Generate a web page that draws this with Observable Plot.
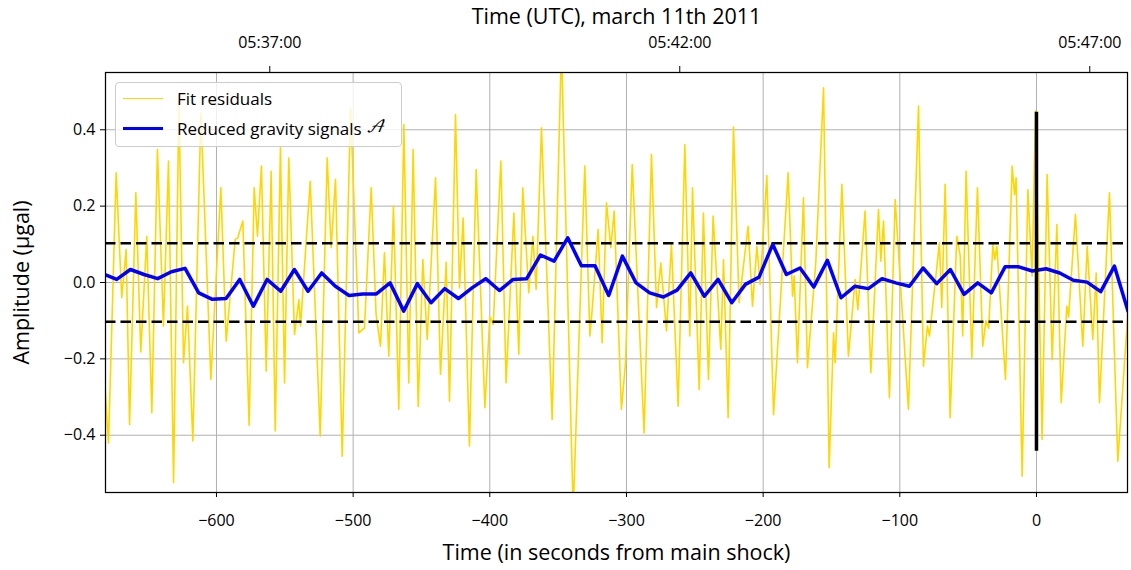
<!DOCTYPE html>
<html><head><meta charset="utf-8">
<script src="https://cdn.jsdelivr.net/npm/d3@7"></script>
<script src="https://cdn.jsdelivr.net/npm/@observablehq/plot@0.6"></script>
<style>
body{margin:0;background:#fff;}
#wrap{position:relative;width:1131px;height:570px;font-family:"Open Sans","DejaVu Sans",sans-serif;}
#wrap svg{display:block;}
g[aria-label="x-axis label"] text, g[aria-label="y-axis label"] text{font-size:21.5px;}
#legend{position:absolute;left:115px;top:82px;width:285px;height:63px;border:1px solid #cccccc;border-radius:4px;background:rgba(255,255,255,0.8);font-size:17px;color:#000;}
.row{position:absolute;left:0;height:20px;display:flex;align-items:center;white-space:nowrap;}
.sw{display:inline-block;width:40px;margin-left:7px;margin-right:14px;}
.cal{font-family:"DejaVu Math TeX Gyre","Noto Sans Math","DejaVu Serif",serif;font-style:italic;}
</style></head><body><div id="wrap"></div>
<script>
// Fit residuals (seconds from main shock, µgal)
const residualTimes = [-682,-679.0,-673.4,-669.3,-666.1,-663.6,-659.0,-655.4,-651.0,-647.3,-643.2,-638.8,-635.1,-631.4,-627.5,-624.1,-621.2,-617.3,-611.4,-604.1,-596.8,-592.9,-586.3,-584.4,-580.7,-576.1,-572.4,-570.0,-567.1,-563.6,-560.0,-557.0,-553.2,-550.2,-547.1,-542.9,-539.7,-538.5,-531.4,-524.1,-519.0,-516.1,-512.9,-508.0,-501.9,-495.8,-491.7,-486.8,-483.2,-480.0,-477.1,-473.9,-470.5,-466.6,-462.9,-459.3,-456.1,-452.4,-449.0,-445.8,-439.7,-436.1,-431.9,-429.5,-425.1,-422.2,-419.5,-414.9,-410.0,-403.6,-400.0,-397.5,-391.9,-388.1,-382.4,-378.8,-375.9,-371.5,-368.5,-366.1,-362.2,-354.4,-347.6,-339.0,-330.5,-326.8,-325.1,-320.7,-317.8,-314.6,-311.5,-309.0,-303.7,-300.7,-295.8,-287.1,-281.7,-278.0,-274.9,-270.7,-267.1,-262.2,-257.3,-253.7,-251.7,-246.8,-243.7,-240.0,-236.6,-231.0,-229.0,-225.6,-221.7,-217.6,-211.0,-207.8,-204.6,-202.2,-197.3,-192.4,-181.7,-178.5,-177.3,-174.9,-170.5,-167.6,-161.5,-155.8,-151.7,-148.5,-147.3,-142.4,-137.6,-132.7,-130.7,-125.4,-121.2,-115.6,-113.9,-111.9,-107.6,-103.4,-93.7,-86.3,-82.7,-79.8,-78.3,-71.0,-69.3,-66.8,-63.2,-58.3,-55.8,-54.0,-51.5,-47.3,-43.2,-39.3,-37.0,-35.0,-31.9,-30.5,-29.0,-22.7,-17.8,-16.1,-14.9,-10.5,-6.3,-3.2,-0.7,4.1,7.8,11.5,14.9,18.1,22.2,23.5,28.5,33.9,37.1,41.2,43.7,46.1,53.4,59.5,66.5,68];
const residualValues = [-0.25,-0.420,0.287,-0.040,0.086,-0.372,0.235,-0.182,0.121,-0.341,0.348,-0.114,0.318,-0.524,0.475,-0.210,-0.062,-0.415,0.444,-0.254,0.248,-0.154,0.113,0.117,0.161,-0.374,0.248,0.121,0.305,-0.232,0.291,-0.389,0.353,-0.263,0.326,-0.136,-0.045,-0.114,0.265,-0.402,0.326,0.091,0.270,-0.455,0.457,-0.132,-0.119,0.248,-0.084,-0.167,0.078,-0.193,0.200,-0.332,0.414,-0.263,0.348,-0.325,0.060,-0.149,0.274,-0.241,0.053,-0.311,0.440,-0.014,0.169,-0.428,0.296,-0.328,-0.090,-0.110,0.318,-0.263,0.182,-0.188,0.248,-0.027,0.121,-0.018,0.405,-0.359,0.62,-0.60,0.305,-0.140,-0.071,0.139,-0.158,0.209,0.091,0.187,-0.332,-0.210,0.309,-0.394,0.335,-0.066,0.051,-0.127,0.099,-0.324,0.361,-0.140,0.248,-0.280,0.182,-0.254,0.174,-0.175,0.060,-0.354,0.407,-0.053,0.147,-0.062,0.095,-0.005,0.280,-0.346,0.287,-0.036,0.017,-0.210,0.222,-0.223,0.051,0.510,-0.485,-0.132,-0.210,0.257,-0.193,0.008,-0.071,0.187,-0.236,0.191,0.056,0.161,-0.302,0.217,-0.332,0.462,-0.219,-0.114,-0.140,0.104,-0.066,0.257,-0.354,0.121,0.070,-0.140,0.291,-0.197,0.248,-0.167,-0.100,-0.120,0.099,0.060,0.095,-0.254,0.305,0.230,0.274,-0.507,0.243,0.017,0.449,-0.411,0.283,-0.202,0.152,-0.315,-0.062,-0.090,0.178,-0.167,0.095,-0.149,0.025,-0.315,0.235,-0.468,-0.100,0.0];

// Reduced gravity signals A (10 s steps)
const signalTimes = [-683,-673,-663,-653,-643,-633,-623,-613,-603,-593,-583,-573,-563,-553,-543,-533,-523,-513,-503,-493,-483,-473,-463,-453,-443,-433,-423,-413,-403,-393,-383,-373,-363,-353,-343,-333,-323,-313,-303,-293,-283,-273,-263,-253,-243,-233,-223,-213,-203,-193,-183,-173,-163,-153,-143,-133,-123,-113,-103,-93,-83,-73,-63,-53,-43,-33,-23,-13,-3,7,17,27,37,47,57,67];
const signalValues = [0.023,0.008,0.034,0.021,0.010,0.028,0.037,-0.027,-0.044,-0.042,0.008,-0.062,0.008,-0.023,0.034,-0.023,0.025,-0.010,-0.034,-0.030,-0.030,-0.001,-0.075,-0.003,-0.053,-0.016,-0.042,-0.014,0.010,-0.021,0.008,0.010,0.072,0.056,0.117,0.044,0.044,-0.034,0.069,-0.001,-0.027,-0.038,-0.020,0.025,-0.036,0.008,-0.053,-0.005,0.014,0.100,0.021,0.038,-0.012,0.058,-0.040,-0.010,-0.016,0.010,-0.001,-0.010,0.038,-0.003,0.034,-0.031,-0.001,-0.027,0.041,0.041,0.030,0.036,0.025,0.006,0.001,-0.024,0.043,-0.075];

const thresholds = [0.103, -0.103];
const shockTime = [0];
const shockRange = [-0.442, 0.446];
const xTicks = [-600,-500,-400,-300,-200,-100,0];
const yTicks = [-0.4,-0.2,0,0.2,0.4];
const utcTicks = [-561,-261,39];
const utcLabels = ["05:37:00","05:42:00","05:47:00"];

const residuals = residualTimes.map((t,i)=>({t, v: residualValues[i]}));
const signals = signalTimes.map((t,i)=>({t, v: signalValues[i]}));
const minus = s => String(s).replace("-", "\u2212");

const chart = Plot.plot({
  width: 1131, height: 570,
  marginLeft: 105, marginRight: 4, marginTop: 72, marginBottom: 78,
  style: {fontFamily: "'Open Sans', 'DejaVu Sans', sans-serif", fontSize: "16px", color: "#000", background: "#fff"},
  x: {domain: [-681.2, 66.6]},
  y: {domain: [-0.55, 0.55]},
  marks: [
    Plot.gridX(xTicks, {stroke: "#b0b0b0", strokeOpacity: 1, strokeWidth: 1}),
    Plot.gridY(yTicks, {stroke: "#b0b0b0", strokeOpacity: 1, strokeWidth: 1}),
    Plot.line(residuals, {x: "t", y: "v", stroke: "#FFD700", strokeWidth: 1.6, clip: true}),
    Plot.ruleY(thresholds, {stroke: "#000", strokeWidth: 2.5, strokeDasharray: "10.5,5"}),
    Plot.line(signals, {x: "t", y: "v", stroke: "#0000FF", strokeWidth: 3.5, clip: true}),
    Plot.ruleX(shockTime, {y1: shockRange[0], y2: shockRange[1], stroke: "#000", strokeWidth: 3.5}),
    Plot.frame({stroke: "#000", strokeWidth: 1.25}),
    Plot.axisX(xTicks, {anchor: "bottom", tickSize: 5, tickPadding: 17, tickFormat: minus,
      label: "Time (in seconds from main shock)", labelAnchor: "center", labelArrow: "none", labelOffset: 67}),
    Plot.axisX(utcTicks, {anchor: "top", tickSize: 7, tickPadding: 18, tickFormat: (d,i)=>utcLabels[i],
      label: "Time (UTC), march 11th 2011", labelAnchor: "center", labelArrow: "none", labelOffset: 64}),
    Plot.axisY(yTicks, {anchor: "left", tickSize: 5, tickPadding: 5, tickFormat: d3.format(".1f"),
      label: "Amplitude (\u03bcgal)", labelAnchor: "center", labelArrow: "none", labelOffset: 92})
  ]
});
const wrap = document.getElementById("wrap");
wrap.appendChild(chart);

const legend = document.createElement("div");
legend.id = "legend";
legend.innerHTML =
  '<div class="row" style="top:5px"><span class="sw" style="border-top:1.6px solid #FFD700"></span>Fit residuals</div>' +
  '<div class="row" style="top:35px"><span class="sw" style="border-top:3.5px solid #0000FF"></span>Reduced gravity signals&nbsp;<span class="cal">\u{1D49C}</span></div>';
wrap.appendChild(legend);
</script></body></html>
